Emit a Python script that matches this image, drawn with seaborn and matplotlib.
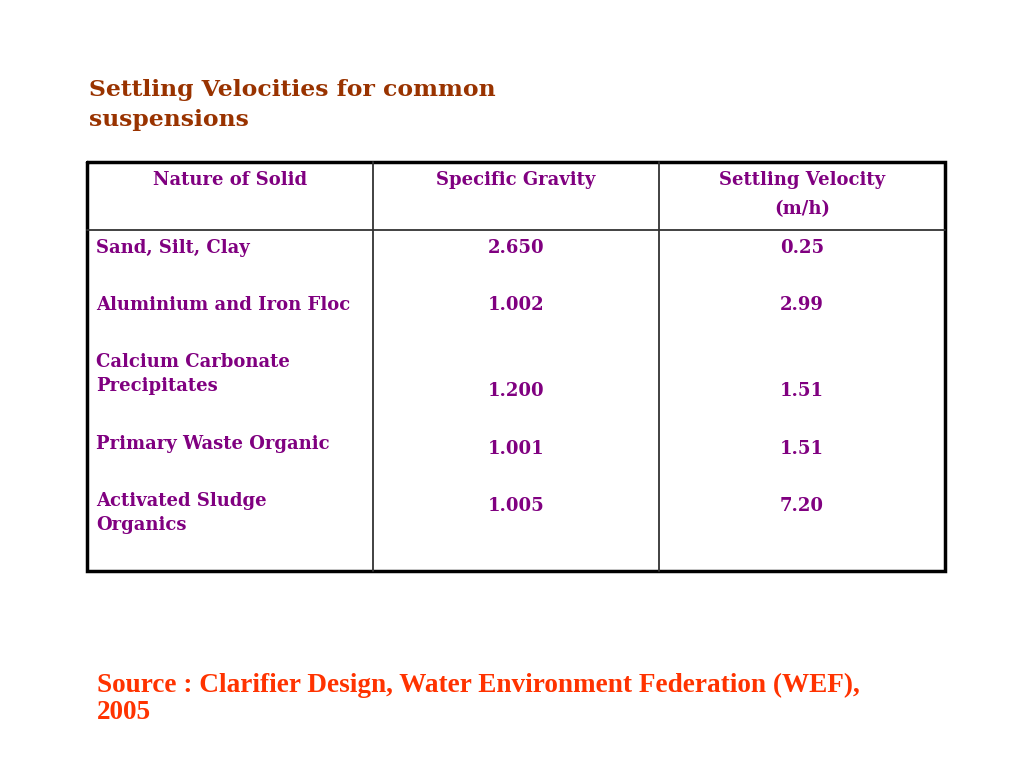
import matplotlib.pyplot as plt
import seaborn as sns

# table data
headers = ["Nature of Solid", "Specific Gravity", "Settling Velocity\n(m/h)"]
solids = ["Sand, Silt, Clay", "Aluminium and Iron Floc", "Calcium Carbonate\nPrecipitates",
          "Primary Waste Organic", "Activated Sludge\nOrganics"]
gravity = ["2.650", "1.002", "1.200", "1.001", "1.005"]
velocity = ["0.25", "2.99", "1.51", "1.51", "7.20"]

title = "Settling Velocities for common\nsuspensions"
source = "Source : Clarifier Design, Water Environment Federation (WEF),\n2005"

sns.set_style("white")
plt.rcParams['font.family'] = ['DejaVu Serif']

fig = plt.figure(figsize=(10.24, 7.68), dpi=100)
ax = fig.add_axes([0, 0, 1, 1])
ax.set_xlim(0, 1024)
ax.set_ylim(768, 0)
ax.axis('off')

purple = '#800080'
brown = '#993300'
orange = '#ff3300'
fs = 13.0

# layout (pixels)
left, right, top, bottom = 87, 945, 162, 571
col_x = [left, 373, 659, right]
head_bottom = 230
name_y = [248, 305, 374, 444, 513]
value_y = [248, 305, 391, 449, 506]

# borders
ax.plot([left, right, right, left, left], [top, top, bottom, bottom, top], color='black', lw=2.5,
        solid_joinstyle='miter')
for x in col_x[1:3]:
    ax.plot([x, x], [top, bottom], color='#333333', lw=1.3)
ax.plot([left, right], [head_bottom, head_bottom], color='#333333', lw=1.3)

# header
centers = [(col_x[i] + col_x[i + 1]) / 2 for i in range(3)]
for c, h in zip(centers, headers):
    for j, line in enumerate(h.split("\n")):
        ax.text(c, 180 + 29 * j, line, ha='center', va='center', fontsize=fs, fontweight='bold',
                color=purple)

# rows
for i in range(len(solids)):
    ax.text(96, name_y[i], solids[i], ha='left', va='center', fontsize=fs, fontweight='bold',
            color=purple, linespacing=1.42)
    ax.text(centers[1], value_y[i], gravity[i], ha='center', va='center', fontsize=fs,
            fontweight='bold', color=purple)
    ax.text(centers[2], value_y[i], velocity[i], ha='center', va='center', fontsize=fs,
            fontweight='bold', color=purple)

ax.text(89, 105, title, ha='left', va='center', fontsize=16.9, fontweight='bold', color=brown,
        linespacing=1.5)
ax.text(97, 699, source, ha='left', va='center', fontsize=19.6, fontweight='bold', color=orange,
        family='Liberation Serif', linespacing=1.1)

fig.savefig("out.png", dpi=100)
